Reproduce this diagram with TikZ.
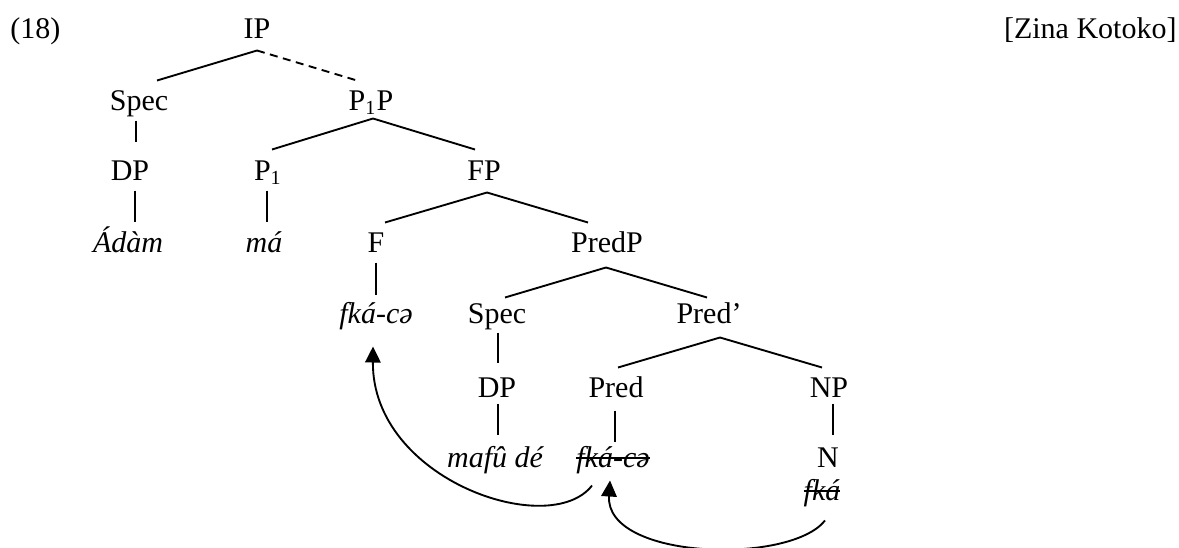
\documentclass[tikz,border=0pt]{standalone}
\usepackage{fontspec}
\setmainfont{Liberation Serif}
\usetikzlibrary{calc,arrows.meta}
\newcommand\strk[1]{\setbox0\hbox{#1}\rlap{\rule[3.4pt]{\wd0}{0.8pt}}\box0}
\begin{document}
\begin{tikzpicture}[x=0.4pt,y=-0.4pt,
  lbl/.style={font=\fontsize{12}{14}\selectfont, inner sep=0pt, text height=8pt, text depth=0pt, anchor=base},
  word/.style={lbl, font=\fontsize{12}{14}\selectfont\itshape},
  branch/.style={line width=0.75pt},
  dbranch/.style={branch, dash pattern=on 3.2pt off 2.2pt},
  move/.style={line width=0.75pt, -{Triangle[length=6.4pt,width=6.2pt]}}]
\useasboundingbox (0,0) rectangle (1179,547);
% labels
\node[lbl, anchor=base west] (ex) at (10,38) {(18)};
\node[lbl, anchor=base east] (src) at (1177,38) {[Zina Kotoko]};
% tree nodes
\node[lbl] (IP) at (257,38) {IP};
\node[lbl] (Spec1) at (139,110) {Spec};
\node[lbl] (P1P) at (371,110) {P\textsubscript{1}P};
\node[lbl] (DP1) at (130,180) {DP};
\node[lbl] (P1) at (268,180) {P\textsubscript{1}};
\node[lbl] (FP) at (484,180) {FP};
\node[word] (Adam) at (128,252) {Ádàm};
\node[word] (ma) at (264,252) {má};
\node[lbl] (F) at (376,252) {F};
\node[lbl] (PredP) at (607,252) {PredP};
\node[word] (fkace) at (376,323) {fká-cə};
\node[lbl] (Spec2) at (497,323) {Spec};
\node[lbl] (Predp) at (709,323) {Pred’};
\node[lbl] (DP2) at (497,397) {DP};
\node[lbl] (Pred) at (616,397) {Pred};
\node[lbl] (NP) at (829,397) {NP};
\node[word] (mafu) at (495,467) {mafû dé};
\node[word] (fkace2) at (613,467) {\strk{fká-cə}};
\node[lbl] (N) at (828,467) {N};
\node[word] (fka) at (822,500) {\strk{fká}};
% branches
\draw[branch] ($(IP.south)+(0,12)$) -- ($(Spec1.north)+(18,-9)$);
\draw[dbranch] ($(IP.south)+(0,12)$) -- ($(P1P.north)+(-14,-9)$);
\draw[branch] ($(P1P.south)+(2,8)$) -- ($(P1.north)+(4,-10)$);
\draw[branch] ($(P1P.south)+(2,8)$) -- ($(FP.north)+(-9,-10)$);
\draw[branch] ($(FP.south)+(3,12)$) -- ($(F.north)+(9,-9)$);
\draw[branch] ($(FP.south)+(3,12)$) -- ($(PredP.north)+(-19,-9)$);
\draw[branch] ($(PredP.south)+(-1,15)$) -- ($(Spec2.north)+(8,-5)$);
\draw[branch] ($(PredP.south)+(-1,15)$) -- ($(Predp.north)+(-2,-5)$);
\draw[branch] ($(Predp.south)+(11,14)$) -- ($(Pred.north)+(2,-9)$);
\draw[branch] ($(Predp.south)+(11,14)$) -- ($(NP.north)+(-7,-9)$);
% vertical lines
\draw[branch] ($(Spec1.south)+(-3,10)$) -- ($(DP1.north)+(6,-18)$);
\draw[branch] ($(DP1.south)+(5,10)$) -- ($(Adam.north)+(7,-10)$);
\draw[branch] ($(P1.south)+(-1,10)$) -- ($(ma.north)+(3,-10)$);
\draw[branch] ($(F.south)+(0,10)$) -- ($(fkace.north)+(0,-8)$);
\draw[branch] ($(Spec2.south)+(1,9)$) -- ($(DP2.north)+(1,-14)$);
\draw[branch] ($(DP2.south)+(1,6)$) -- ($(mafu.north)+(3,-12)$);
\draw[branch] ($(Pred.south)+(-1,13)$) -- ($(fkace2.north)+(2,-5)$);
\draw[branch] ($(NP.south)+(4,6)$) -- ($(N.north)+(5,-12)$);
% movement arrows
\draw[move] ($(fkace2.south)+(-21,18)$) .. controls (550,540) and (372,480) .. ($(fkace.south)+(-3,23)$);
\draw[move] ($(fka.south)+(3,20)$) .. controls (790,565) and (605,560) .. ($(fkace2.south)+(-3,13)$);
\end{tikzpicture}
\end{document}
